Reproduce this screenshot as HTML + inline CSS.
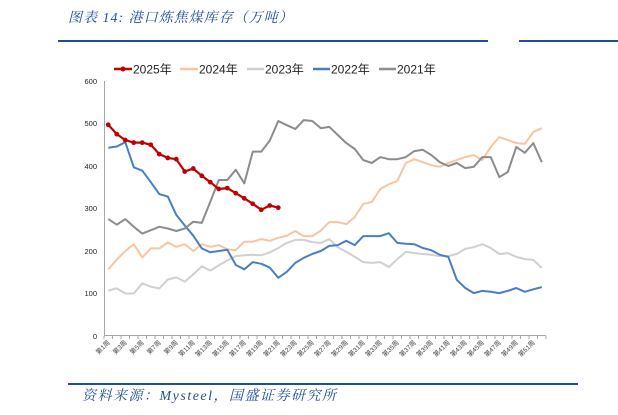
<!DOCTYPE html>
<html><head><meta charset="utf-8"><style>
html,body{margin:0;padding:0;background:#fff;width:618px;height:415px;overflow:hidden}
svg{display:block}
</style></head><body>
<svg id="s" width="618" height="415" xmlns="http://www.w3.org/2000/svg" font-family="Liberation Sans, Noto Sans CJK SC, sans-serif">
<text x="68" y="22" font-size="14" font-style="italic" fill="#1f4e9a" letter-spacing="1" font-family="Liberation Serif, Noto Serif CJK SC, serif">图表 14:  港口炼焦煤库存（万吨）</text>
<rect x="58" y="40" width="430" height="2" fill="#1f4e9a"/>
<rect x="519" y="40" width="99" height="2" fill="#1f4e9a"/>
<rect x="68" y="383" width="510" height="2" fill="#1f4e9a"/>
<text x="82" y="400" font-size="14" font-style="italic" fill="#1f4e9a" letter-spacing="1.5" font-family="Liberation Serif, Noto Serif CJK SC, serif">资料来源：Mysteel，国盛证券研究所</text>
<g font-size="12" fill="#222">
<line x1="114" y1="69" x2="132" y2="69" stroke="#c00000" stroke-width="2.5"/><circle cx="123" cy="69" r="2.5" fill="#c00000"/><text x="133" y="73.5">2025年</text>
<line x1="180" y1="69" x2="198" y2="69" stroke="#f9c5a1" stroke-width="2.5"/><text x="199" y="73.5">2024年</text>
<line x1="247" y1="69" x2="264" y2="69" stroke="#d0d0d0" stroke-width="2.5"/><text x="265" y="73.5">2023年</text>
<line x1="313" y1="69" x2="330" y2="69" stroke="#4a7ec4" stroke-width="2.5"/><text x="331" y="73.5">2022年</text>
<line x1="379" y1="69" x2="396" y2="69" stroke="#8c8c8c" stroke-width="2.5"/><text x="397" y="73.5">2021年</text>
</g>
<g font-size="7.5" fill="#222" text-anchor="end">
<text x="97" y="84">600</text><text x="97" y="126">500</text><text x="97" y="169">400</text><text x="97" y="211">300</text><text x="97" y="254">200</text><text x="97" y="296">100</text><text x="97" y="339">0</text>
</g>
<line x1="104.5" y1="81" x2="104.5" y2="336" stroke="#a6a6a6"/>
<line x1="104" y1="335.5" x2="546" y2="335.5" stroke="#a6a6a6"/>
<g id="g"></g>
</svg>
<script>
var d={
c2021:[275,262,275,257,241,249,257,253,247,253,269,266,316,367,367,391,359,434,434,460,506,496,487,508,506,489,492,473,454,440,414,407,421,416,416,421,435,438,426,409,400,407,395,398,421,421,374,386,445,431,454,409],
c2022:[443,446,456,397,389,362,334,328,285,260,236,206,197,200,203,167,157,174,170,161,137,151,172,184,193,200,212,214,224,214,235,235,235,242,219,217,216,207,202,191,186,132,113,101,106,104,101,106,113,104,110,115],
c2023:[107,112,100,100,124,116,112,133,138,128,145,164,154,166,178,188,190,191,190,197,207,219,226,226,221,219,228,209,198,186,174,172,174,162,181,198,195,193,191,188,188,193,205,209,216,207,193,195,186,181,179,160],
c2024:[157,180,200,216,185,206,206,220,210,216,200,216,210,214,204,202,222,222,228,224,231,236,247,235,235,248,268,268,263,280,311,315,346,357,365,407,416,409,402,398,407,414,421,426,414,445,468,461,454,452,480,489],
c2025:[497,475,461,455,455,450,428,419,416,387,394,377,362,346,348,336,324,311,297,307,302]};
var col={c2021:"#8c8c8c",c2022:"#4a7ec4",c2023:"#d0d0d0",c2024:"#f9c5a1",c2025:"#c00000"};
function X(i){return 108.25+8.5*i}function Y(v){return 336-v*0.425}
var h="";
for(var i=0;i<=52;i++){var x=104+8.5*i;h+='<line x1="'+x+'" y1="336" x2="'+x+'" y2="339" stroke="#a6a6a6"/>';}
for(var i=0;i<52;i+=2){var x=X(i)+2,y=343;h+='<text font-size="6.5" fill="#444" text-anchor="end" transform="translate('+x+','+y+') rotate(-45)">第'+(i+1)+'周</text>';}
["c2023","c2024","c2022","c2021","c2025"].forEach(function(k){var p=d[k].map(function(v,i){return X(i).toFixed(1)+","+Y(v).toFixed(1)}).join(" ");
h+='<polyline points="'+p+'" fill="none" stroke="'+col[k]+'" stroke-width="'+(k=="c2025"?2.2:2)+'" stroke-linejoin="round"/>';
if(k=="c2025")d[k].forEach(function(v,i){h+='<circle cx="'+X(i)+'" cy="'+Y(v)+'" r="2.4" fill="#c00000"/>'});});
document.getElementById("g").innerHTML=h;
</script>
</body></html>
